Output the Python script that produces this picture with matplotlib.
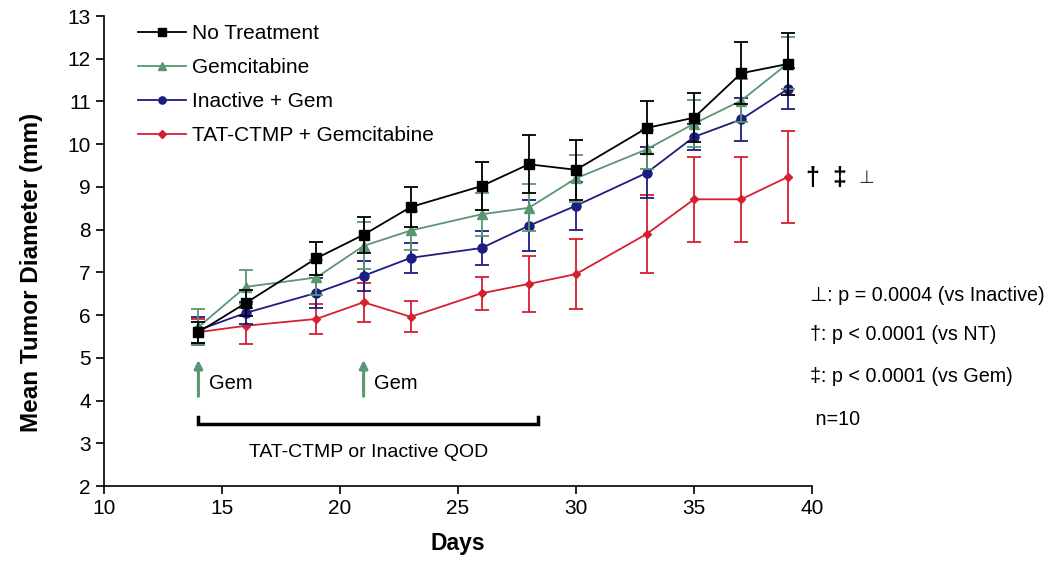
import matplotlib
matplotlib.use("Agg")
import matplotlib.pyplot as plt
from matplotlib.lines import Line2D

plt.rcParams['font.family'] = ['Liberation Sans', 'DejaVu Sans']

days = [14, 16, 19, 21, 23, 26, 28, 30, 33, 35, 37, 39]

nt_mean = [5.6, 6.28, 7.33, 7.88, 8.53, 9.02, 9.53, 9.4, 10.38, 10.62, 11.66, 11.88]
nt_err = [0.25, 0.3, 0.38, 0.42, 0.47, 0.57, 0.68, 0.7, 0.62, 0.58, 0.73, 0.72]

gem_mean = [5.72, 6.66, 6.88, 7.62, 7.98, 8.36, 8.51, 9.2, 9.88, 10.48, 11.02, 11.9]
gem_err = [0.42, 0.4, 0.4, 0.55, 0.45, 0.5, 0.55, 0.55, 0.45, 0.55, 0.5, 0.6]

ina_mean = [5.65, 6.05, 6.52, 6.92, 7.34, 7.57, 8.09, 8.56, 9.33, 10.17, 10.58, 11.3]
ina_err = [0.3, 0.25, 0.35, 0.35, 0.35, 0.4, 0.6, 0.56, 0.6, 0.3, 0.5, 0.48]

tat_mean = [5.6, 5.75, 5.91, 6.3, 5.96, 6.51, 6.73, 6.96, 7.9, 8.71, 8.71, 9.24]
tat_err = [0.3, 0.42, 0.36, 0.45, 0.36, 0.39, 0.66, 0.82, 0.92, 1.0, 1.0, 1.08]

labels = ["No Treatment", "Gemcitabine", "Inactive + Gem", "TAT-CTMP + Gemcitabine"]

fig = plt.figure(figsize=(10.5, 5.62), dpi=100)
ax = fig.add_axes([104/1050, 76/562, 708/1050, 470/562])

c_nt = "#000000"
c_gem = "#5b9672"
c_ina = "#1c1c82"
c_tat = "#d42030"

series = [
    (tat_mean, tat_err, c_tat, "D", 4.5, labels[3], 1),
    (ina_mean, ina_err, c_ina, "o", 6.5, labels[2], 2),
    (gem_mean, gem_err, c_gem, "^", 6.5, labels[1], 3),
    (nt_mean, nt_err, c_nt, "s", 7, labels[0], 4),
]
proxies = {}
for m, e, c, mk, ms, lab, z in series:
    ax.errorbar(days, m, yerr=e, color=c, marker=mk, markersize=ms,
                linewidth=1.3, elinewidth=1.3, capsize=5, capthick=1.3,
                zorder=z)
    proxies[lab] = Line2D([], [], color=c, marker=mk, markersize=ms * 0.8,
                          linewidth=1.3)

ax.legend([proxies[l] for l in labels], labels, loc="upper left",
          bbox_to_anchor=(0.028, 1.013), frameon=False, fontsize=15,
          handlelength=2.3, handletextpad=0.25, labelspacing=0.72,
          borderaxespad=0.3)

ax.set_xlim(10, 40)
ax.set_ylim(2, 13)
ax.set_xticks([10, 15, 20, 25, 30, 35, 40])
ax.set_yticks(range(2, 14))
ax.spines['top'].set_visible(False)
ax.spines['right'].set_visible(False)
for s in ['left', 'bottom']:
    ax.spines[s].set_linewidth(1.2)
ax.tick_params(direction='out', length=6, width=1.2, labelsize=15)
ax.set_xlabel("Days", fontsize=16.5, fontweight='bold', labelpad=10)
ax.set_ylabel("Mean Tumor Diameter (mm)", fontsize=17.5, fontweight='bold')
ax.yaxis.set_label_coords(-0.086, 0.455)

# Gem arrows
for d in [14, 21]:
    ax.annotate("", xy=(d, 4.95), xytext=(d, 4.1),
                arrowprops=dict(arrowstyle="-|>", color=c_gem, lw=2.2,
                                mutation_scale=12, shrinkA=0, shrinkB=0))
    ax.text(d + 0.45, 4.4, "Gem", fontsize=14.5, va="center", ha="left")

# bracket
ax.plot([14, 14, 28.4, 28.4], [3.62, 3.45, 3.45, 3.62], color="black", lw=2.5,
        solid_joinstyle="miter")
ax.text(21.2, 2.78, "TAT-CTMP or Inactive QOD", fontsize=14, ha="center", va="center")

# significance markers
ax.text(39.7, 9.2, "†", fontsize=18, fontweight='bold', ha="left", va="center",
        clip_on=False)
ax.text(40.85, 9.2, "‡", fontsize=18, fontweight='bold', ha="left", va="center",
        clip_on=False)
ax.text(41.95, 9.2, "⊥", fontsize=13, color="#333333", ha="left", va="center",
        clip_on=False, family=['DejaVu Sans'])

notes = [("⊥: p = 0.0004 (vs Inactive)", 6.45),
         ("†: p < 0.0001 (vs NT)", 5.55),
         ("‡: p < 0.0001 (vs Gem)", 4.57),
         (" n=10", 3.55)]
for t, y in notes:
    ax.text(39.9, y, t, fontsize=14.2, ha="left", va="center", clip_on=False,
            family=['Liberation Sans', 'DejaVu Sans'])

fig.savefig("out.png", dpi=100)
